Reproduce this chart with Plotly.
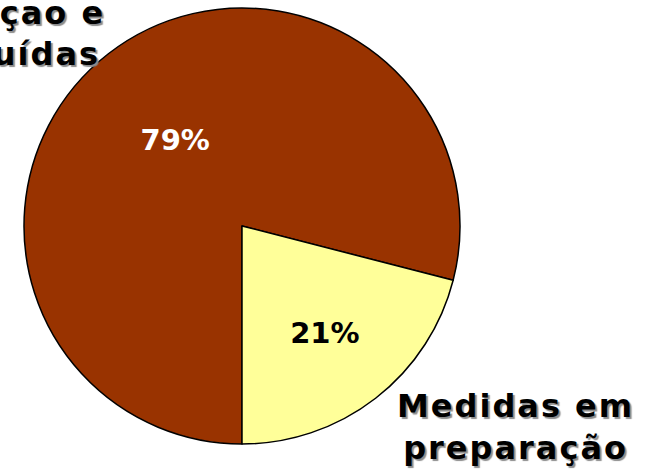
import plotly.graph_objects as go

categories = ["Medidas em<br>execuçao e<br>concluídas", "Medidas em<br>preparação"]
values = [79, 21]
colors = ["#993300", "#FFFF99"]
text_colors = ["white", "black"]

W, H = 655, 474
cx, cy, r = 242, 226, 218

fig = go.Figure(go.Pie(
    labels=categories,
    values=values,
    sort=False,
    direction="clockwise",
    rotation=180,
    marker=dict(colors=colors, line=dict(color="black", width=1.5)),
    textinfo="percent",
    texttemplate="%{percent:.0%}",
    textposition="inside",
    insidetextorientation="horizontal",
    textfont=dict(family="DejaVu Sans", size=29, color=text_colors, weight="bold"),
    showlegend=False,
    hoverinfo="label+percent",
    domain=dict(x=[(cx - r) / W, (cx + r) / W], y=[(H - cy - r) / H, (H - cy + r) / H]),
))


def spaced(t):
    return "<br>".join('<span style="letter-spacing:2px">%s</span>' % line for line in t.split("<br>"))


shadow = "2px 2px 1px #8c8c8c"
lab_font = dict(family="DejaVu Sans", size=32, color="black", weight="bold", shadow=shadow)
fig.add_annotation(
    text=spaced(categories[0]), xref="paper", yref="paper", x=-6 / W, y=1 - 12 / H,
    xanchor="center", yanchor="middle", align="center", showarrow=False, font=lab_font,
)
fig.add_annotation(
    text=spaced(categories[1]), xref="paper", yref="paper", x=515 / W, y=1 - 427 / H,
    xanchor="center", yanchor="middle", align="center", showarrow=False, font=lab_font,
)

fig.update_layout(
    width=W, height=H,
    margin=dict(l=0, r=0, t=0, b=0),
    paper_bgcolor="white", plot_bgcolor="white",
)
fig.write_html("out.html", config={"displayModeBar": False},
               post_script="document.body.style.margin='0';")
